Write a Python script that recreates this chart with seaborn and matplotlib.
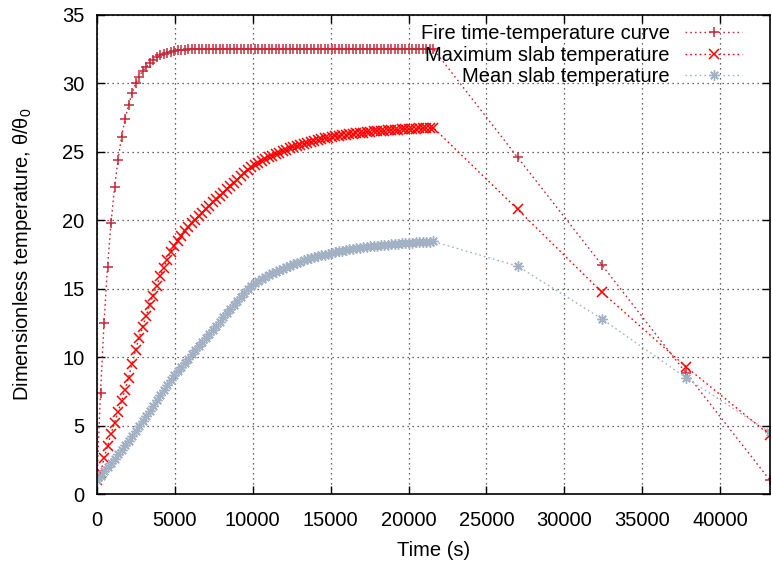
import matplotlib
matplotlib.use("Agg")
import matplotlib.pyplot as plt
import seaborn as sns
import pandas as pd
from matplotlib.lines import Line2D

# ---------------- data ----------------
heat_time = [0, 225, 450, 675, 900, 1125, 1350, 1575, 1800, 2025, 2250, 2475, 2700, 2925,
             3150, 3375, 3600, 3825, 4050, 4275, 4500, 4725, 4950, 5175, 5400, 5625, 5850,
             6075, 6300, 6525, 6750, 6975, 7200, 7425, 7650, 7875, 8100, 8325, 8550, 8775,
             9000, 9225, 9450, 9675, 9900, 10125, 10350, 10575, 10800, 11025, 11250, 11475,
             11700, 11925, 12150, 12375, 12600, 12825, 13050, 13275, 13500, 13725, 13950,
             14175, 14400, 14625, 14850, 15075, 15300, 15525, 15750, 15975, 16200, 16425,
             16650, 16875, 17100, 17325, 17550, 17775, 18000, 18225, 18450, 18675, 18900,
             19125, 19350, 19575, 19800, 20025, 20250, 20475, 20700, 20925, 21150, 21375,
             21600]
cool_time = [27000, 32400, 37800, 43200]

fire_heat = [1.0, 7.4, 12.5, 16.6, 19.8, 22.4, 24.4, 26.1, 27.4, 28.4, 29.3, 30.0, 30.5, 30.9,
             31.2, 31.5, 31.7, 31.9, 32.05, 32.15, 32.25, 32.32, 32.37, 32.41, 32.44, 32.46,
             32.48, 32.49, 32.5, 32.5, 32.5, 32.5, 32.5, 32.5, 32.5, 32.5, 32.5, 32.5, 32.5,
             32.5, 32.5, 32.5, 32.5, 32.5, 32.5, 32.5, 32.5, 32.5, 32.5, 32.5, 32.5, 32.5,
             32.5, 32.5, 32.5, 32.5, 32.5, 32.5, 32.5, 32.5, 32.5, 32.5, 32.5, 32.5, 32.5,
             32.5, 32.5, 32.5, 32.5, 32.5, 32.5, 32.5, 32.5, 32.5, 32.5, 32.5, 32.5, 32.5,
             32.5, 32.5, 32.5, 32.5, 32.5, 32.5, 32.5, 32.5, 32.5, 32.5, 32.5, 32.5, 32.5,
             32.5, 32.5, 32.5, 32.5, 32.5, 32.5]
fire_cool = [24.6, 16.75, 8.85, 1.0]

max_heat = [1.0, 1.5, 2.6, 3.5, 4.4, 5.2, 6.0, 6.8, 7.6, 8.5, 9.5, 10.5, 11.4, 12.2, 13.0,
            13.8, 14.5, 15.2, 15.9, 16.5, 17.1, 17.7, 18.15, 18.5, 18.85, 19.2, 19.5, 19.8,
            20.05, 20.3, 20.55, 20.8, 21.05, 21.3, 21.55, 21.75, 22.0, 22.25, 22.5, 22.7,
            22.95, 23.2, 23.45, 23.7, 23.9, 24.05, 24.2, 24.35, 24.48, 24.6, 24.72, 24.83,
            24.94, 25.05, 25.15, 25.25, 25.34, 25.43, 25.51, 25.59, 25.66, 25.73, 25.8,
            25.86, 25.92, 25.98, 26.03, 26.08, 26.13, 26.17, 26.21, 26.25, 26.29, 26.32,
            26.35, 26.38, 26.41, 26.44, 26.46, 26.49, 26.51, 26.53, 26.55, 26.57, 26.59,
            26.61, 26.62, 26.64, 26.65, 26.67, 26.68, 26.7, 26.71, 26.72, 26.73, 26.74, 26.75]
max_cool = [20.8, 14.75, 9.3, 4.3]

mean_heat = [1.0, 1.3, 1.65, 1.95, 2.25, 2.55, 2.9, 3.25, 3.55, 3.9, 4.25, 4.6, 4.95, 5.3,
             5.7, 6.05, 6.45, 6.85, 7.2, 7.6, 7.95, 8.35, 8.7, 9.0, 9.3, 9.6, 9.9, 10.2, 10.5,
             10.8, 11.1, 11.4, 11.7, 12.0, 12.3, 12.6, 12.9, 13.2, 13.5, 13.8, 14.1, 14.4,
             14.7, 14.95, 15.2, 15.4, 15.55, 15.7, 15.85, 16.0, 16.12, 16.24, 16.36, 16.47,
             16.58, 16.69, 16.8, 16.89, 16.98, 17.07, 17.15, 17.23, 17.3, 17.37, 17.44, 17.5,
             17.56, 17.62, 17.68, 17.73, 17.78, 17.83, 17.87, 17.91, 17.95, 17.99, 18.03,
             18.06, 18.09, 18.12, 18.15, 18.18, 18.2, 18.23, 18.25, 18.27, 18.29, 18.31,
             18.33, 18.35, 18.37, 18.38, 18.4, 18.41, 18.43, 18.44, 18.45]
mean_cool = [16.65, 12.8, 8.5, 4.5]

labels = ["Fire time-temperature curve", "Maximum slab temperature", "Mean slab temperature"]
x_ticks = [0, 5000, 10000, 15000, 20000, 25000, 30000, 35000, 40000]
y_ticks = [0, 5, 10, 15, 20, 25, 30, 35]

# ---------------- style ----------------
sns.set_theme(style="white")
plt.rcParams["font.family"] = ["Liberation Sans", "DejaVu Sans"]
plt.rcParams["mathtext.fontset"] = "custom"
plt.rcParams["mathtext.rm"] = "Liberation Sans"
plt.rcParams["mathtext.it"] = "Liberation Sans:italic"

FS = 14.5
fig = plt.figure(figsize=(7.72, 5.67), dpi=100)
ax = fig.add_axes([97 / 772, 1 - 494 / 567, (770 - 97) / 772, (494 - 15) / 567])

time_all = heat_time + cool_time
DOT = (0, (1.2, 2.2))
series = [
    (fire_heat + fire_cool, "#c42a3a", "+", 7.5, 1.1),
    (max_heat + max_cool, "#ff0000", "x", 6.5, 1.1),
    (mean_heat + mean_cool, "#a2b2c4", (8, 2, 0), 7.5, 1.0),
]

handles = []
for (vals, col, mk, ms, mew), lab in zip(series, labels):
    df = pd.DataFrame({"t": time_all, "v": vals})
    sns.lineplot(data=df, x="t", y="v", ax=ax, color=col, linestyle=DOT,
                 linewidth=1.0, marker=mk, markersize=ms, markeredgewidth=mew,
                 markeredgecolor=col, markerfacecolor=col, sort=False,
                 estimator=None, legend=False)
    handles.append(Line2D([], [], color=col, linestyle=DOT, linewidth=1.0,
                          marker=mk, markersize=ms, markeredgewidth=mew,
                          markeredgecolor=col, markerfacecolor=col))

ax.set_xlim(0, 43200)
ax.set_ylim(0, 35)
ax.set_xticks(x_ticks)
ax.set_yticks(y_ticks)
ax.set_xticklabels([str(v) for v in x_ticks])
ax.set_yticklabels([str(v) for v in y_ticks])

ax.grid(True, color="black", linestyle=(0, (1, 3)), linewidth=0.9, alpha=0.8)
for s in ax.spines.values():
    s.set_color("black")
    s.set_linewidth(1.2)
ax.tick_params(axis="both", which="major", direction="in", length=6, width=1,
               color="black", labelsize=FS, labelcolor="black",
               top=True, right=True, bottom=True, left=True)
ax.tick_params(axis="x", pad=12)
ax.tick_params(axis="y", pad=9)

ax.set_xlabel("Time (s)", fontsize=FS, color="black", labelpad=8)
ax.set_ylabel(r"Dimensionless temperature, θ/θ$_0$", fontsize=FS, color="black", labelpad=20)

leg = ax.legend(handles, labels, loc="upper right", bbox_to_anchor=(742 / 772, 1 - 24 / 567),
                bbox_transform=fig.transFigure, frameon=False, markerfirst=False,
                fontsize=FS, handlelength=2.83, handletextpad=0.75, labelspacing=0.13,
                borderpad=0, borderaxespad=0)
for t in leg.get_texts():
    t.set_color("black")

fig.savefig("out.png", dpi=100)
